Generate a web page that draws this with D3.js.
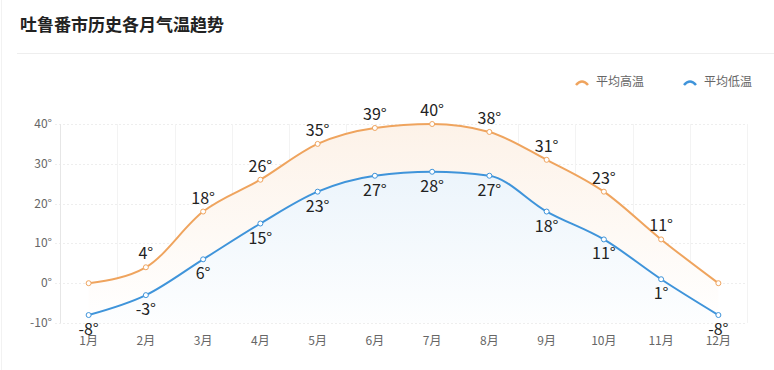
<!DOCTYPE html>
<html>
<head>
<meta charset="utf-8">
<script src="https://cdn.jsdelivr.net/npm/d3@7"></script>
<style>
  html, body { margin: 0; padding: 0; background: #fff; }
  body { width: 774px; height: 370px; overflow: hidden; font-family: "Microsoft YaHei", "Noto Sans CJK SC", sans-serif; }
</style>
</head>
<body>
<div id="chart"></div>
<script>
// data
const months = ["1月", "2月", "3月", "4月", "5月", "6月", "7月", "8月", "9月", "10月", "11月", "12月"];
const highTemps = [0, 4, 18, 26, 35, 39, 40, 38, 31, 23, 11, 0];
const lowTemps = [-8, -3, 6, 15, 23, 27, 28, 27, 18, 11, 1, -8];
const yTicks = [-10, 0, 10, 20, 30, 40];
const seriesNames = ["平均高温", "平均低温"];

const width = 774, height = 370;
const colorHigh = "#EFA45E", colorLow = "#3F94DA";
const margin = { left: 60, right: 27, top: 124, bottom: 47 };

const svg = d3.select("#chart").append("svg")
  .attr("width", width).attr("height", height);

// card border + title
svg.append("line").attr("x1", 1.5).attr("x2", 1.5).attr("y1", 0).attr("y2", height)
  .attr("stroke", "#f2f2f2");
svg.append("text").attr("x", 20).attr("y", 31)
  .attr("font-size", 17).attr("font-weight", "bold").attr("fill", "#222")
  .text("吐鲁番市历史各月气温趋势");
svg.append("line").attr("x1", 17).attr("x2", width).attr("y1", 53.5).attr("y2", 53.5)
  .attr("stroke", "#eeeeee");

// scales
const x = d3.scaleBand().domain(months).range([margin.left, width - margin.right]);
const y = d3.scaleLinear().domain([-10, 40]).range([height - margin.bottom, margin.top]);
const cx = (m) => x(m) + x.bandwidth() / 2;

// grid
const grid = svg.append("g");
grid.selectAll("line.h").data(yTicks).join("line")
  .attr("x1", margin.left - 5).attr("x2", width - margin.right)
  .attr("y1", (d) => Math.round(y(d)) + 0.5).attr("y2", (d) => Math.round(y(d)) + 0.5)
  .attr("stroke", "#eeeeee").attr("stroke-dasharray", "2,2");
const bounds = months.map((m) => x(m)).concat([width - margin.right]);
grid.selectAll("line.v").data(bounds).join("line")
  .attr("x1", (d) => Math.round(d) + 0.5).attr("x2", (d) => Math.round(d) + 0.5)
  .attr("y1", y(40)).attr("y2", y(-10))
  .attr("stroke", (d, i) => (i === 0 ? "#e6e6e6" : "#f3f3f3"));

// y labels
svg.append("g").selectAll("text").data(yTicks).join("text")
  .attr("x", 52).attr("y", (d) => y(d) + 4)
  .attr("text-anchor", "end").attr("font-size", 12).attr("fill", "#666")
  .text((d) => d + "°");

// x labels
svg.append("g").selectAll("text").data(months).join("text")
  .attr("x", (d) => cx(d)).attr("y", height - margin.bottom + 22)
  .attr("text-anchor", "middle").attr("font-size", 12).attr("fill", "#666")
  .text((d) => d);

// gradients
const defs = svg.append("defs");
function grad(id, color, top, bottom) {
  const g = defs.append("linearGradient").attr("id", id)
    .attr("x1", 0).attr("y1", 0).attr("x2", 0).attr("y2", 1);
  g.append("stop").attr("offset", "0%").attr("stop-color", color).attr("stop-opacity", top);
  g.append("stop").attr("offset", "100%").attr("stop-color", color).attr("stop-opacity", bottom);
}
grad("gHigh", colorHigh, 0.14, 0.0);
grad("gLow", colorLow, 0.1, 0.01);

const curve = d3.curveMonotoneX;
const series = [
  { name: seriesNames[0], values: highTemps, color: colorHigh, fill: "url(#gHigh)", above: true },
  { name: seriesNames[1], values: lowTemps, color: colorLow, fill: "url(#gLow)", above: false },
];

series.forEach((s) => {
  const pts = months.map((m, i) => [cx(m), y(s.values[i])]);
  const area = d3.area().x((d) => d[0]).y0(y(-10)).y1((d) => d[1]).curve(curve);
  const line = d3.line().x((d) => d[0]).y((d) => d[1]).curve(curve);
  svg.append("path").attr("d", area(pts)).attr("fill", "#fff");
  svg.append("path").attr("d", area(pts)).attr("fill", s.fill);
  s.pts = pts; s.line = line;
});

series.forEach((s) => {
  svg.append("path").attr("d", s.line(s.pts)).attr("fill", "none")
    .attr("stroke", s.color).attr("stroke-width", 2);
  svg.append("g").selectAll("circle").data(s.pts).join("circle")
    .attr("cx", (d) => d[0]).attr("cy", (d) => d[1]).attr("r", 2.5)
    .attr("fill", "#fff").attr("stroke", s.color).attr("stroke-width", 1);
  // zero values get no label (as in the source chart)
  const labels = s.values.map((v, i) => ({ v, m: months[i] })).filter((d) => d.v !== 0);
  svg.append("g").selectAll("text").data(labels).join("text")
    .attr("x", (d) => cx(d.m))
    .attr("y", (d) => y(d.v) + (s.above ? -8 : 20))
    .attr("text-anchor", "middle").attr("font-size", 16).attr("fill", "#222")
    .text((d) => d.v + "°");
});

// legend
const legendItems = [
  { name: seriesNames[0], color: colorHigh, x: 576 },
  { name: seriesNames[1], color: colorLow, x: 684 },
];
const lg = svg.append("g").selectAll("g").data(legendItems).join("g")
  .attr("transform", (d) => `translate(${d.x}, 81)`);
lg.append("path").attr("d", "M0,4 Q6,-3 12,4").attr("fill", "none")
  .attr("stroke", (d) => d.color).attr("stroke-width", 2.5);
lg.append("text").attr("x", 20).attr("y", 5).attr("font-size", 12).attr("fill", "#666")
  .text((d) => d.name);
</script>
</body>
</html>
